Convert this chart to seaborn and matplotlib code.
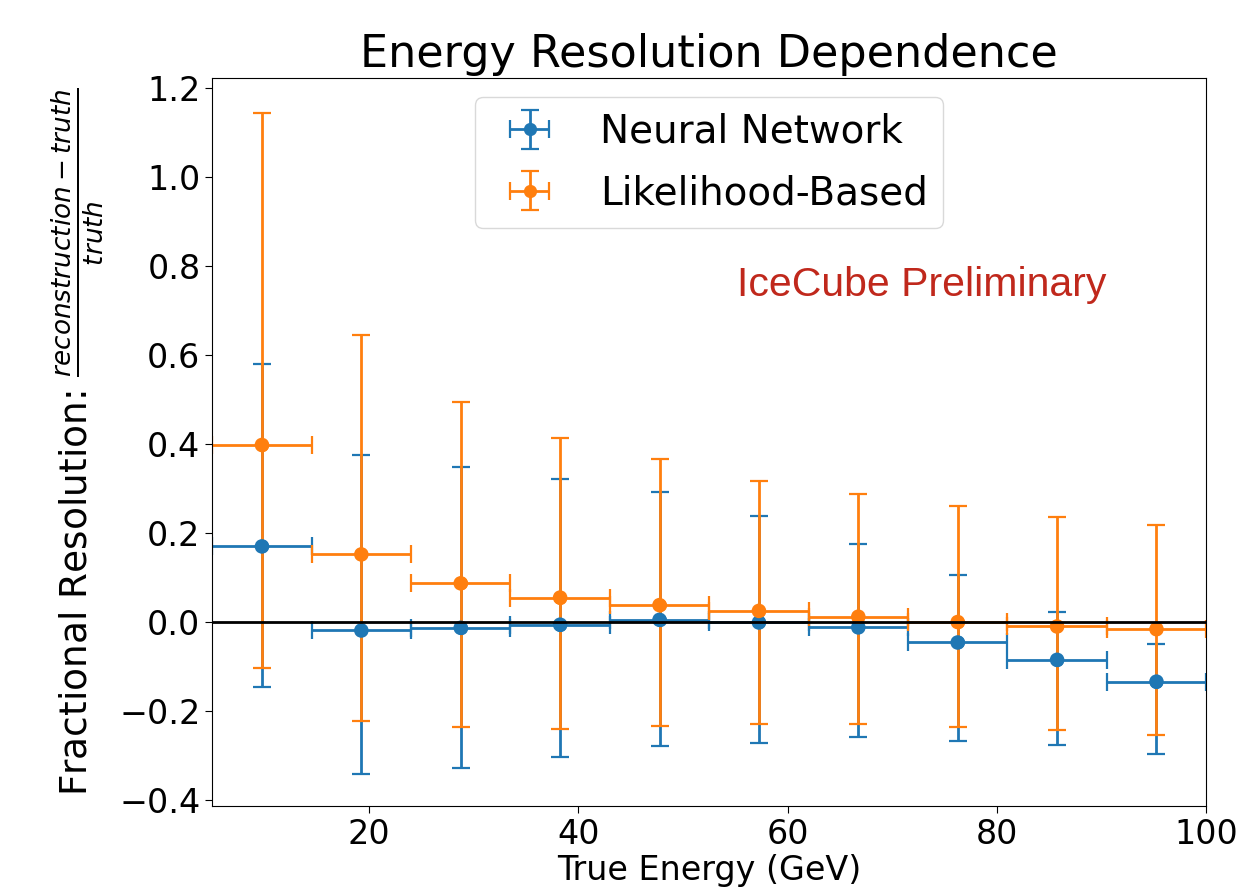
import numpy as np
import pandas as pd
import matplotlib
matplotlib.use("Agg")
import matplotlib.pyplot as plt
import seaborn as sns

# ---- data ----
bin_edges = [5.0, 14.5, 24.0, 33.5, 43.0, 52.5, 62.0, 71.5, 81.0, 90.5, 100.0]
energy = [9.75, 19.25, 28.75, 38.25, 47.75, 57.25, 66.75, 76.25, 85.75, 95.25]

nn_center = [0.170, -0.019, -0.013, -0.006, 0.005, -0.001, -0.012, -0.046, -0.085, -0.134]
nn_upper = [0.581, 0.376, 0.349, 0.321, 0.293, 0.239, 0.176, 0.105, 0.023, -0.049]
nn_lower = [-0.147, -0.341, -0.329, -0.304, -0.278, -0.271, -0.259, -0.267, -0.277, -0.297]

lb_center = [0.398, 0.152, 0.087, 0.055, 0.038, 0.025, 0.012, 0.000, -0.010, -0.016]
lb_upper = [1.145, 0.645, 0.494, 0.413, 0.367, 0.316, 0.288, 0.261, 0.236, 0.218]
lb_lower = [-0.104, -0.222, -0.235, -0.241, -0.233, -0.229, -0.229, -0.237, -0.243, -0.254]

series_names = ["Neural Network", "Likelihood-Based"]

sns.set_style("ticks")
plt.rcParams["font.family"] = ["DejaVu Sans"]
plt.rcParams["text.color"] = "black"
plt.rcParams["axes.labelcolor"] = "black"
plt.rcParams["xtick.color"] = "black"
plt.rcParams["ytick.color"] = "black"
palette = sns.color_palette("tab10")

fig = plt.figure(figsize=(12.39, 8.90), dpi=100)
# left 212 px, right ~1206 px, bottom 806 px, top 78 px
ax = fig.add_axes([0.1713, 0.0944, 0.8022, 0.8180])

x = np.array(energy)
half_w = np.diff(np.array(bin_edges)) / 2.0

df = pd.DataFrame({
    "energy": list(energy) * 2,
    "value": list(nn_center) + list(lb_center),
    "method": [series_names[0]] * len(energy) + [series_names[1]] * len(energy),
})

for name, c, up, lo, col in [
    (series_names[0], nn_center, nn_upper, nn_lower, palette[0]),
    (series_names[1], lb_center, lb_upper, lb_lower, palette[1]),
]:
    c = np.array(c)
    yerr = np.vstack([c - np.array(lo), np.array(up) - c])
    ax.errorbar(x, c, xerr=half_w, yerr=yerr, fmt="o", color=col,
                markersize=8.5, elinewidth=2.0, capsize=6.5, capthick=1.6,
                label=name, zorder=2)

sns.scatterplot(data=df, x="energy", y="value", hue="method",
                palette=[palette[0], palette[1]], s=110, edgecolor="none",
                legend=False, ax=ax, zorder=2.5)

ax.axhline(0.0, color="black", lw=2.0, zorder=3)

ax.set_xlim(5, 100)
ax.set_ylim(-0.4135, 1.223)
ax.set_xticks([20, 40, 60, 80, 100])
ax.set_yticks([-0.4, -0.2, 0.0, 0.2, 0.4, 0.6, 0.8, 1.0, 1.2])
ax.tick_params(axis="y", labelsize=24, length=5, width=0.8, color="black")
ax.tick_params(axis="x", labelsize=24, length=5, width=0.8, color="black")
for s in ax.spines.values():
    s.set_color("black")
    s.set_linewidth(0.8)

ax.set_title("Energy Resolution Dependence", fontsize=32, pad=8, color="black")
ax.set_xlabel("True Energy (GeV)", fontsize=24, labelpad=2)
ax.set_ylabel(r"Fractional Resolution: $\frac{reconstruction - truth}{truth}$",
              fontsize=27, labelpad=10)

ax.text(55.2, 0.733, "IceCube Preliminary", color="#c0281c", fontsize=29.5,
        family="Liberation Sans", ha="left", va="baseline")

leg = ax.legend(loc="upper center", fontsize=28, frameon=True, labelspacing=0.6)
leg.get_frame().set_edgecolor("#d0d0d0")

fig.savefig("out.png", dpi=100)
